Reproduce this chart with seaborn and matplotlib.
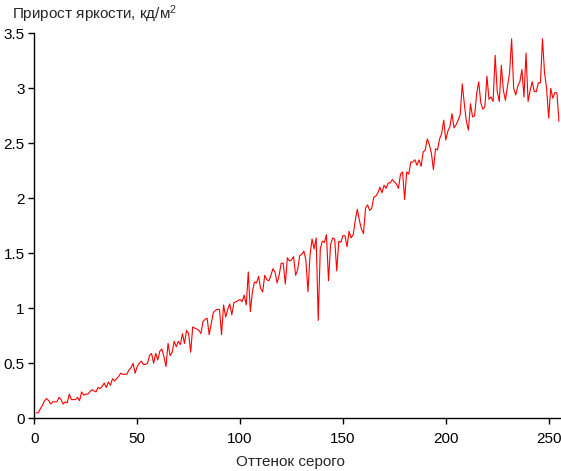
import numpy as np
import pandas as pd
import matplotlib
matplotlib.use("Agg")
import matplotlib.pyplot as plt
import seaborn as sns

gray_levels = list(range(1, 256))
brightness_gain = [
    0.05, 0.05, 0.09, 0.12, 0.16, 0.18, 0.16, 0.13, 0.15, 0.15,
    0.15, 0.19, 0.17, 0.13, 0.15, 0.14, 0.22, 0.17, 0.17, 0.17,
    0.19, 0.16, 0.24, 0.21, 0.22, 0.22, 0.24, 0.26, 0.25, 0.24,
    0.28, 0.27, 0.29, 0.32, 0.28, 0.33, 0.30, 0.36, 0.34, 0.36,
    0.38, 0.41, 0.40, 0.40, 0.40, 0.44, 0.46, 0.50, 0.41, 0.47,
    0.50, 0.52, 0.49, 0.49, 0.50, 0.57, 0.59, 0.50, 0.59, 0.53,
    0.61, 0.63, 0.56, 0.47, 0.68, 0.57, 0.60, 0.70, 0.65, 0.70,
    0.67, 0.77, 0.68, 0.80, 0.77, 0.60, 0.83, 0.82, 0.81, 0.80,
    0.77, 0.88, 0.90, 0.91, 0.76, 0.86, 0.96, 0.98, 0.99, 0.99,
    0.76, 1.03, 0.92, 0.99, 1.04, 0.94, 1.05, 1.06, 1.07, 1.08,
    1.06, 1.12, 1.03, 1.33, 0.97, 1.15, 1.24, 1.23, 1.29, 1.18,
    1.15, 1.30, 1.26, 1.25, 1.30, 1.36, 1.33, 1.23, 1.30, 1.41,
    1.41, 1.22, 1.46, 1.43, 1.44, 1.47, 1.30, 1.35, 1.48, 1.49,
    1.52, 1.44, 1.15, 1.48, 1.63, 1.54, 1.64, 0.89, 1.54, 1.61,
    1.60, 1.67, 1.25, 1.58, 1.64, 1.63, 1.34, 1.61, 1.60, 1.66,
    1.66, 1.56, 1.70, 1.64, 1.67, 1.80, 1.90, 1.80, 1.72, 1.68,
    1.91, 1.94, 1.89, 1.91, 2.01, 2.02, 2.05, 2.10, 2.05, 2.12,
    2.09, 2.14, 2.14, 2.17, 2.15, 2.13, 2.09, 2.22, 2.24, 1.99,
    2.24, 2.22, 2.33, 2.33, 2.35, 2.30, 2.35, 2.29, 2.42, 2.44,
    2.54, 2.49, 2.41, 2.26, 2.45, 2.44, 2.54, 2.59, 2.71, 2.53,
    2.61, 2.65, 2.77, 2.64, 2.67, 2.71, 2.76, 3.04, 2.86, 2.70,
    2.62, 2.86, 2.74, 2.75, 2.95, 3.06, 2.87, 2.81, 2.83, 3.11,
    2.90, 2.92, 2.88, 3.30, 2.97, 2.88, 3.21, 2.98, 2.89, 3.02,
    3.14, 3.45, 3.00, 2.94, 3.02, 3.06, 3.17, 2.92, 3.32, 2.88,
    2.98, 3.06, 2.97, 2.97, 3.05, 3.05, 3.45, 3.14, 3.00, 2.73,
    3.00, 2.91, 2.96, 2.96, 2.70,
]
x_ticks = [0, 50, 100, 150, 200, 250]
y_ticks = [0, 0.5, 1, 1.5, 2, 2.5, 3, 3.5]
y_tick_labels = ["0", "0.5", "1", "1.5", "2", "2.5", "3", "3.5"]
title_text = "Прирост яркости, кд/м$^{2}$"
x_label = "Оттенок серого"

df = pd.DataFrame({"gray": gray_levels, "gain": brightness_gain})

sns.set_style("ticks")
plt.rcParams["font.family"] = ["Liberation Sans", "DejaVu Sans"]
plt.rcParams["font.size"] = 11
plt.rcParams["mathtext.fontset"] = "custom"
plt.rcParams["mathtext.rm"] = "Liberation Sans"
plt.rcParams["mathtext.it"] = "Liberation Sans"
plt.rcParams["mathtext.default"] = "regular"

W, H = 561, 471
fig = plt.figure(figsize=(W / 100, H / 100), dpi=100)
left = 34.3 / W
bottom = (H - 418.3) / H
top = 1 - 33.3 / H
ax = fig.add_axes([left, bottom, 1 - left, top - bottom])

sns.lineplot(data=df, x="gray", y="gain", ax=ax, color="#ff0000", linewidth=0.8)

ax.set_xlim(0, 256)
ax.set_ylim(0, 3.5)
ax.set_xticks(x_ticks)
ax.set_yticks(y_ticks)
ax.set_yticklabels(y_tick_labels)
ax.set_xlabel("")
ax.set_ylabel("")
sns.despine(ax=ax)
for s in ["left", "bottom"]:
    ax.spines[s].set_color("black")
    ax.spines[s].set_linewidth(1.0)
ax.tick_params(axis="both", direction="out", length=4, width=1, colors="black",
               labelsize=11, pad=3)
ax.tick_params(axis="x", pad=6)

fig.text(12 / W, 1 - 3 / H, title_text, ha="left", va="top", fontsize=11)
fig.text(290 / W, 1 - 455 / H, x_label, ha="center", va="top", fontsize=11)

fig.savefig("out.png", dpi=100, facecolor="white")
